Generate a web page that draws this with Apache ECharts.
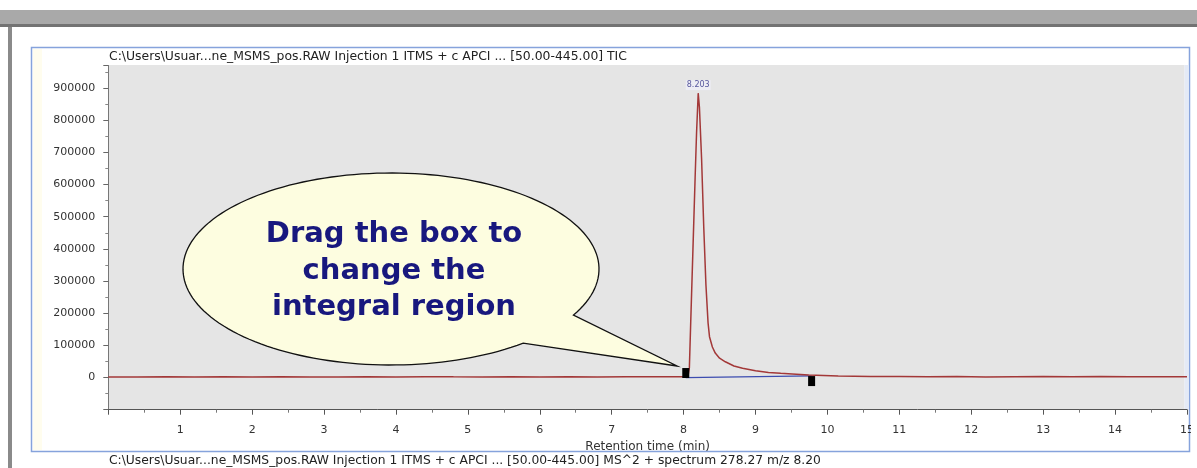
<!DOCTYPE html>
<html><head><meta charset="utf-8">
<script src="https://cdn.jsdelivr.net/npm/echarts@6/dist/echarts.min.js"></script>
<style>
html,body{margin:0;padding:0;background:#fff;overflow:hidden}
#c{position:absolute;left:0;top:0;width:1197px;height:468px}
#mask{position:absolute;left:1190.5px;top:28px;width:7px;height:440px;background:#fff}
</style>
</head><body><div id="c"></div><div id="mask"></div>
<script>
// ---- data ----
const rtMinutes = [0,0.4,0.8,1.2,1.6,2.0,2.4,2.8,3.2,3.6,4.0,4.4,4.8,5.2,5.6,6.0,6.4,6.8,7.2,7.6,7.9,8.0,8.06,8.08,8.10,8.13,8.16,8.18,8.203,8.22,8.25,8.28,8.31,8.34,8.36,8.40,8.44,8.50,8.58,8.70,8.82,9.0,9.18,9.35,9.51,9.74,10.15,10.6,11.0,11.4,11.8,12.2,12.6,13.0,13.4,13.8,14.2,14.6,15.0];
const ticIntensity = [2000,1500,2500,1800,2200,1600,2400,2000,1700,2300,1900,2600,2100,1800,2400,2000,2200,1700,2500,2100,2300,2500,4000,30000,180000,400000,620000,760000,884000,840000,680000,468000,290000,170000,127000,95000,76000,60000,49000,36000,28600,21000,16000,13000,11000,7800,4700,3500,3000,2400,3200,2000,2800,3500,2200,2900,2100,2700,2500];
const apex = [8.203, 884000];
const integralBaseline = [[8.03, 0], [9.78, 5000]];
const integralHandles = [[8.03, 14000], [9.78, -11000]];
const titleText = 'C:\\Users\\Usuar...ne_MSMS_pos.RAW Injection 1 ITMS + c APCI ... [50.00-445.00] TIC';
const footerText = 'C:\\Users\\Usuar...ne_MSMS_pos.RAW Injection 1 ITMS + c APCI ... [50.00-445.00] MS^2 + spectrum 278.27 m/z 8.20';
const calloutText = 'Drag the box to\nchange the\nintegral region';
const xAxisName = 'Retention time (min)';

// ---- chart ----
const chart = echarts.init(document.getElementById('c'), null, {renderer: 'canvas'});
const FONT = 'DejaVu Sans';

// callout bubble outline (ellipse + tail)
const cx = 391, cy = 269, rx = 208, ry = 96, tip = [677, 366];
const aB = Math.atan2((343 - cy) / ry, (523 - cx) / rx);
const aA = Math.atan2((315 - cy) / ry, (573 - cx) / rx) + 2 * Math.PI;
const bubble = [tip];
const N = 160;
for (let i = 0; i <= N; i++) {
  const a = aB + (aA - aB) * i / N;
  bubble.push([cx + rx * Math.cos(a), cy + ry * Math.sin(a)]);
}

const option = {
  animation: false,
  backgroundColor: '#ffffff',
  grid: {left: 108.3, right: 8, top: 65.5, bottom: 58.3, show: false},
  xAxis: {
    type: 'value', min: 0, max: 15, interval: 1,
    axisLine: {show: true, onZero: false, lineStyle: {color: '#555', width: 1}},
    axisTick: {show: true, length: 5, lineStyle: {color: '#555'}},
    minorTick: {show: true, splitNumber: 2, length: 3, lineStyle: {color: '#777'}},
    axisLabel: {fontFamily: FONT, fontSize: 11, color: '#333', margin: 15,
      formatter: v => v === 0 ? '' : String(v)},
    splitLine: {show: false},
    name: xAxisName, nameLocation: 'middle', nameGap: 31,
    nameTextStyle: {fontFamily: FONT, fontSize: 12, color: '#333'}
  },
  yAxis: {
    type: 'value', min: -100000, max: 970000, interval: 100000,
    axisLine: {show: true, onZero: false, lineStyle: {color: '#777', width: 1}},
    axisTick: {show: true, length: 5, lineStyle: {color: '#666'}},
    minorTick: {show: true, splitNumber: 2, length: 3, lineStyle: {color: '#888'}},
    axisLabel: {fontFamily: FONT, fontSize: 11, color: '#333', margin: 13, showMaxLabel: false,
      formatter: v => v < 0 ? '' : String(v)},
    splitLine: {show: false}
  },
  series: [
    {
      name: 'integral baseline', type: 'line', data: integralBaseline,
      showSymbol: false, symbol: 'none', silent: true, z: 2,
      lineStyle: {color: '#3c4cb0', width: 1.3}
    },
    {
      name: 'TIC', type: 'line', data: rtMinutes.map((t, i) => [t, ticIntensity[i]]),
      showSymbol: false, symbol: 'none', silent: true, z: 3,
      lineStyle: {color: '#a33838', width: 1.5}
    },
    {
      name: 'handles', type: 'scatter', data: integralHandles,
      symbol: 'rect', symbolSize: [7, 10], silent: true, z: 5,
      itemStyle: {color: '#000', opacity: 1}
    },
    {
      name: 'apex', type: 'scatter', data: [apex], symbolSize: 0, silent: true, z: 6,
      label: {show: true, position: 'top', distance: 3,
        formatter: p => p.value[0].toFixed(3),
        fontFamily: FONT, fontSize: 8, color: '#2e2e86',
        backgroundColor: 'rgba(240,240,250,0.85)', padding: [1, 1]}
    }
  ],
  graphic: [
    {type: 'rect', z: -30, silent: true, shape: {x: 0, y: 10, width: 1197, height: 15}, style: {fill: '#a9a9a9'}},
    {type: 'rect', z: -30, silent: true, shape: {x: 0, y: 24, width: 1197, height: 3}, style: {fill: '#737373'}},
    {type: 'rect', z: -30, silent: true, shape: {x: 8, y: 27, width: 4, height: 441}, style: {fill: '#8a8a8a'}},
    {type: 'rect', z: -25, silent: true, shape: {x: 31.5, y: 47.5, width: 1158, height: 404}, style: {fill: '#ffffff', stroke: '#86a3dc', lineWidth: 1.5}},
    {type: 'rect', z: -24, silent: true, shape: {x: 33, y: 49, width: 9, height: 401}, style: {fill: '#fffdee'}},
    {type: 'rect', z: -20, silent: true, shape: {x: 108.5, y: 65, width: 1076, height: 345}, style: {fill: '#e5e5e5'}},
    {type: 'rect', z: -19, silent: true, shape: {x: 1184.5, y: 65, width: 4, height: 345}, style: {fill: '#e4eaf6'}},
    {type: 'text', z: 10, silent: true, style: {text: titleText, x: 109, y: 57, font: '12.4px "DejaVu Sans"', fill: '#222',
      align: 'left', verticalAlign: 'middle', textAlign: 'left', textVerticalAlign: 'middle'}},
    {type: 'text', z: 10, silent: true, style: {text: footerText, x: 109, y: 461, font: '12.3px "DejaVu Sans"', fill: '#222',
      align: 'left', verticalAlign: 'middle', textAlign: 'left', textVerticalAlign: 'middle'}},
    {type: 'polygon', z: 50, silent: true, shape: {points: bubble}, style: {fill: '#fdfde0', stroke: '#111', lineWidth: 1.3}},
    {type: 'text', z: 51, silent: true, style: {text: calloutText, x: 394, y: 271, font: 'bold 29px "DejaVu Sans"',
      fill: '#18187e', lineHeight: 36.5,
      align: 'center', verticalAlign: 'middle', textAlign: 'center', textVerticalAlign: 'middle'}}
  ]
};
chart.setOption(option);
</script>
</body></html>
